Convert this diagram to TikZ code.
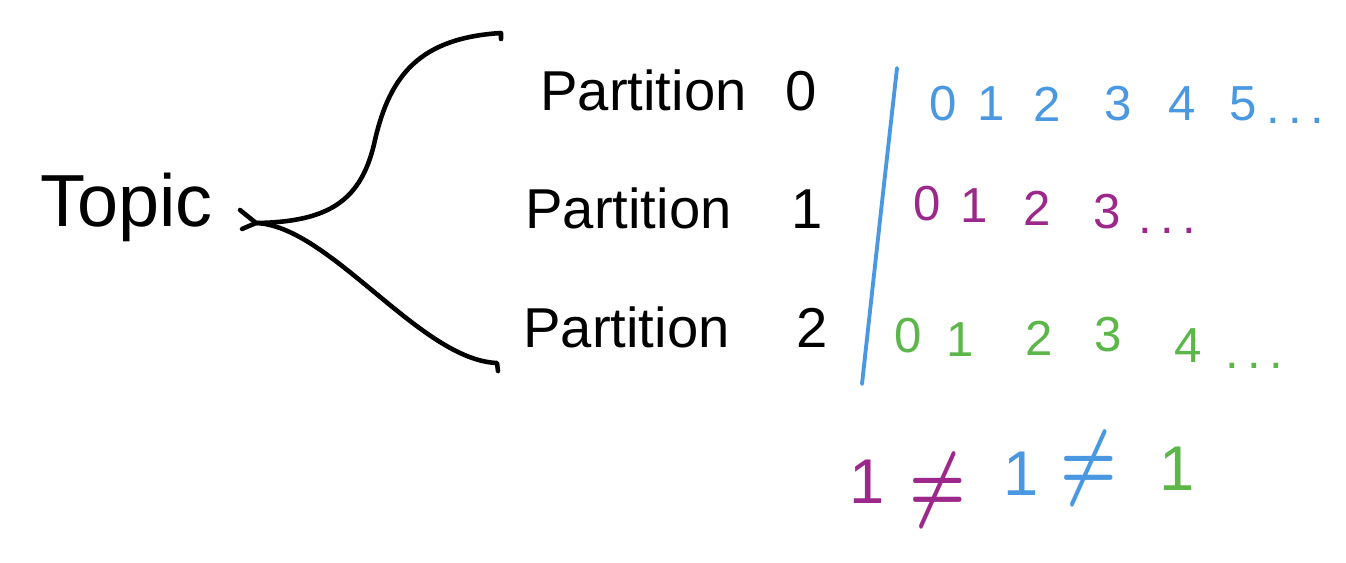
\documentclass[tikz,border=0pt]{standalone}
\usepackage{fontspec}
\setmainfont{Liberation Sans}
\usetikzlibrary{positioning}

\definecolor{offblue}{RGB}{74,152,226}
\definecolor{offpurple}{RGB}{155,40,138}
\definecolor{offgreen}{RGB}{92,182,74}

\begin{document}
\begin{tikzpicture}[
  x=0.02cm, y=-0.02cm,
  ink/.style={line width=2.6pt, line cap=round, line join=round},
  sepline/.style={ink, draw=offblue, line width=2.2pt},
  part/.style={font=\fontsize{32}{36}\selectfont, anchor=base west, inner sep=0pt},
  num/.style={font=\fontsize{28}{32}\selectfont, inner sep=0pt},
  dots/.style={num, anchor=base west},
  big/.style={font=\fontsize{36}{40}\selectfont, inner sep=0pt},
  neq/.style={inner sep=0pt, font=\boldmath},
]
  \useasboundingbox (0,0) rectangle (1346,562);

  %% ── Topic (left) ──
  \node[font=\fontsize{42}{46}\selectfont, inner sep=0pt, anchor=base west]
    (topic) at (40,226) {Topic};

  %% Fork: two branches out of the topic
  \coordinate (fork) at (256,223);
  \coordinate (up)   at (501,33);
  \coordinate (down) at (497,363);
  \draw[ink] (fork) ++(-14,6) -- (fork)
    .. controls (330,222) and (362,200) .. (375,140)
    .. controls (390,75) and (420,38) .. (up) -- ++(0,6);
  \draw[ink] (fork) ++(-16,-13) -- (fork)
    .. controls (330,226) and (420,360) .. (down) -- ++(1,8);

  %% ── Partitions ──
  \node[part] (p0) at (540,110) {Partition\hspace{22pt}0};
  \node[part] (p1) at (525,228) {Partition\hspace{34pt}1};
  \node[part] (p2) at (523,347) {Partition\hspace{38pt}2};

  %% Separator (blue)
  \coordinate (septop) at (897,68);
  \coordinate (sepbot) at (862,384);
  \draw[sepline] (septop) .. controls (880,220) .. (sepbot);

  %% ══════════════════════════════════════════════════════
  %% Offsets, partition 0 (blue)
  \node[num, text=offblue] (a0) at (943,104)  {0};
  \node[num, text=offblue] (a1) at (991,104)  {1};
  \node[num, text=offblue] (a2) at (1047,104) {2};
  \node[num, text=offblue] (a3) at (1118,104) {3};
  \node[num, text=offblue] (a4) at (1182,104) {4};
  \node[num, text=offblue] (a5) at (1243,104) {5};
  \node[dots, text=offblue] (a6) at (1266,123) {.\,.\,.};

  %% Offsets, partition 1 (purple)
  \node[num, text=offpurple] (b0) at (927,204)  {0};
  \node[num, text=offpurple] (b1) at (974,206)  {1};
  \node[num, text=offpurple] (b2) at (1037,208) {2};
  \node[num, text=offpurple] (b3) at (1107,212) {3};
  \node[dots, text=offpurple] (b4) at (1138,233) {.\,.\,.};

  %% Offsets, partition 2 (green)
  \node[num, text=offgreen] (c0) at (908,336)  {0};
  \node[num, text=offgreen] (c1) at (960,340)  {1};
  \node[num, text=offgreen] (c2) at (1039,338) {2};
  \node[num, text=offgreen] (c3) at (1108,335) {3};
  \node[num, text=offgreen] (c4) at (1188,346) {4};
  \node[dots, text=offgreen] (c5) at (1225,368) {.\,.\,.};

  %% ══════════════════════════════════════════════════════
  %% 1 != 1 != 1
  \node[big, text=offpurple] (q1)  at (867,482)  {1};
  \node[neq, text=offpurple] (ne1) at (938,490)
    {\scalebox{3.6}[4.8]{$\neq$}};
  \node[big, text=offblue]   (q2)  at (1021,474) {1};
  \node[neq, text=offblue]   (ne2) at (1089,468)
    {\scalebox{3.6}[4.8]{$\neq$}};
  \node[big, text=offgreen]  (q3)  at (1177,469) {1};
\end{tikzpicture}
\end{document}
